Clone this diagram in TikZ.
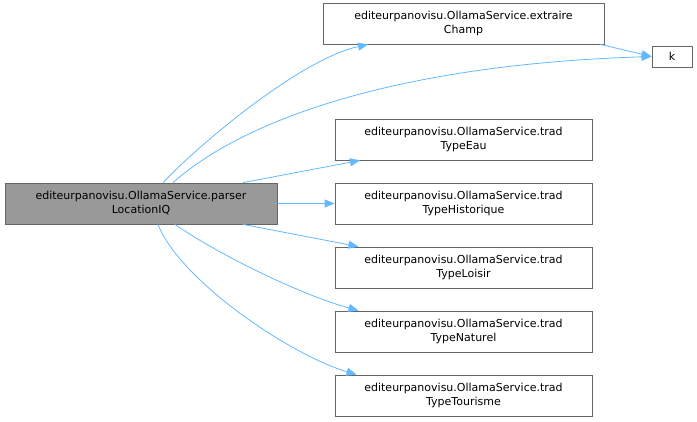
\documentclass[tikz,border=0pt]{standalone}
\usepackage{fontspec}
\setmainfont{DejaVu Sans}
\usepackage{xcolor}
\usetikzlibrary{positioning,arrows.meta,calc}
\definecolor{edgeblue}{HTML}{63B8FF}
\definecolor{boxline}{HTML}{666666}
\definecolor{mainfill}{HTML}{999999}

\begin{document}
\begin{tikzpicture}[x=1pt, y=1pt,
  fn/.style={draw=boxline, fill=white, line width=0.8pt, align=center, inner sep=0pt,
             minimum width=257pt, minimum height=41pt, font=\fontsize{11}{14}\selectfont},
  flow/.style={-{Triangle[length=10pt, width=8pt]}, edgeblue, line width=0.8pt},
  node distance=22.2pt]
\useasboundingbox (0,0) rectangle (697,-421);
\node[fn, fill=mainfill, minimum width=272pt] (main) at (141,-203.5)
  {editeurpanovisu.OllamaService.parser\\LocationIQ};
\node[fn, minimum width=281pt] (extraire) at (463.5,-23.5)
  {editeurpanovisu.OllamaService.extraire\\Champ};
\node[fn, minimum width=40pt, minimum height=21pt] (k) at (672,-56.5) {k};
\node[fn] (eau) at (463.5,-139.5) {editeurpanovisu.OllamaService.trad\\TypeEau};
\node[fn, below=of eau] (hist) {editeurpanovisu.OllamaService.trad\\TypeHistorique};
\node[fn, below=of hist] (loisir) {editeurpanovisu.OllamaService.trad\\TypeLoisir};
\node[fn, below=of loisir] (naturel) {editeurpanovisu.OllamaService.trad\\TypeNaturel};
\node[fn, below=of naturel] (tourisme) {editeurpanovisu.OllamaService.trad\\TypeTourisme};
% calls from parserLocationIQ
\draw[flow] ([xshift=22pt]main.north) .. controls +(37,39) and +(-68,-15) .. ([xshift=-95.5pt]extraire.south);
\draw[flow] ([xshift=32pt]main.north) .. controls +(72,64) and +(-252,-8) .. (k.west);
\draw[flow] ([xshift=-4pt]extraire.south east) -- (k.west);
\draw[flow] ([xshift=102pt]main.north) -- ([xshift=-103.5pt]eau.south);
\draw[flow] (main.east) -- (hist.west);
\draw[flow] ([xshift=102pt]main.south) -- ([xshift=-105pt]loisir.north);
\draw[flow] ([xshift=34pt]main.south) .. controls +(45,-31) and +(-58,16) .. ([xshift=-105pt]naturel.north);
\draw[flow] ([xshift=17pt]main.south) .. controls +(22,-56) and +(-67,20) .. ([xshift=-107pt]tourisme.north);
\end{tikzpicture}
\end{document}
